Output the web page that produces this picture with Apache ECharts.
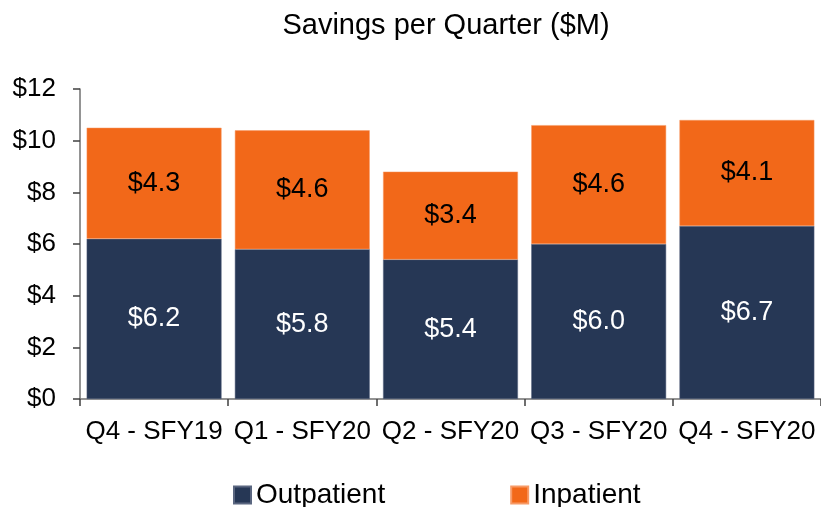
<!DOCTYPE html>
<html>
<head>
<meta charset="utf-8">
<script src="https://cdn.jsdelivr.net/npm/echarts@6/dist/echarts.min.js"></script>
<style>
    html, body { margin: 0; padding: 0; background: #fff; }
    #main { width: 821px; height: 507px; }
</style>
</head>
<body>
<div id="main"></div>
<script>
    // quarters on the x axis
    const quarters = ['Q4 - SFY19', 'Q1 - SFY20', 'Q2 - SFY20', 'Q3 - SFY20', 'Q4 - SFY20'];
    // savings in $M
    const outpatient = [6.2, 5.8, 5.4, 6.0, 6.7];
    const inpatient = [4.3, 4.6, 3.4, 4.6, 4.1];

    const font = '"Liberation Sans", Arial, sans-serif';

    let myEchart = echarts.init(document.getElementById('main'));

    let option = {
        animation: false,
        title: {
            text: 'Savings per Quarter ($M)',
            left: 441,
            textAlign: 'center',
            top: 6,
            textStyle: { fontFamily: font, fontSize: 29, fontWeight: 'normal', color: '#000' }
        },
        legend: {
            data: ['Outpatient', 'Inpatient'],
            left: 233,
            top: 481,
            padding: 0,
            icon: 'rect',
            itemWidth: 17,
            itemHeight: 17,
            itemGap: 125,
            textStyle: { fontFamily: font, fontSize: 28, color: '#000' }
        },
        grid: {
            left: 80,
            right: -7,
            top: 89,
            bottom: 108
        },
        xAxis: {
            type: 'category',
            data: quarters,
            axisLine: { lineStyle: { color: '#707070', width: 1.5 } },
            axisTick: { show: true, length: 7, lineStyle: { color: '#404040', width: 1.5 } },
            axisLabel: { fontFamily: font, fontSize: 26, color: '#000', margin: 20, interval: 0 }
        },
        yAxis: {
            type: 'value',
            min: 0,
            max: 12,
            interval: 2,
            axisLine: { show: true, lineStyle: { color: '#707070', width: 1.5 } },
            axisTick: { show: true, length: 7, lineStyle: { color: '#404040', width: 1.5 } },
            splitLine: { show: false },
            axisLabel: {
                fontFamily: font, fontSize: 26, color: '#000', margin: 24,
                formatter: v => '$' + v
            }
        },
        series: [
            {
                name: 'Outpatient',
                type: 'bar',
                stack: 'total',
                barCategoryGap: '9%',
                data: outpatient,
                itemStyle: { color: '#263755', borderColor: '#5a6680', borderWidth: 0.5 },
                label: {
                    show: true, position: 'inside',
                    fontFamily: font, fontSize: 27, color: '#fff',
                    formatter: p => '$' + p.value.toFixed(1)
                }
            },
            {
                name: 'Inpatient',
                type: 'bar',
                stack: 'total',
                data: inpatient,
                itemStyle: { color: '#F26819', borderColor: '#f79a66', borderWidth: 0.5 },
                label: {
                    show: true, position: 'inside',
                    fontFamily: font, fontSize: 27, color: '#000',
                    formatter: p => '$' + p.value.toFixed(1)
                }
            }
        ]
    };
    myEchart.setOption(option);
</script>
</body>
</html>
